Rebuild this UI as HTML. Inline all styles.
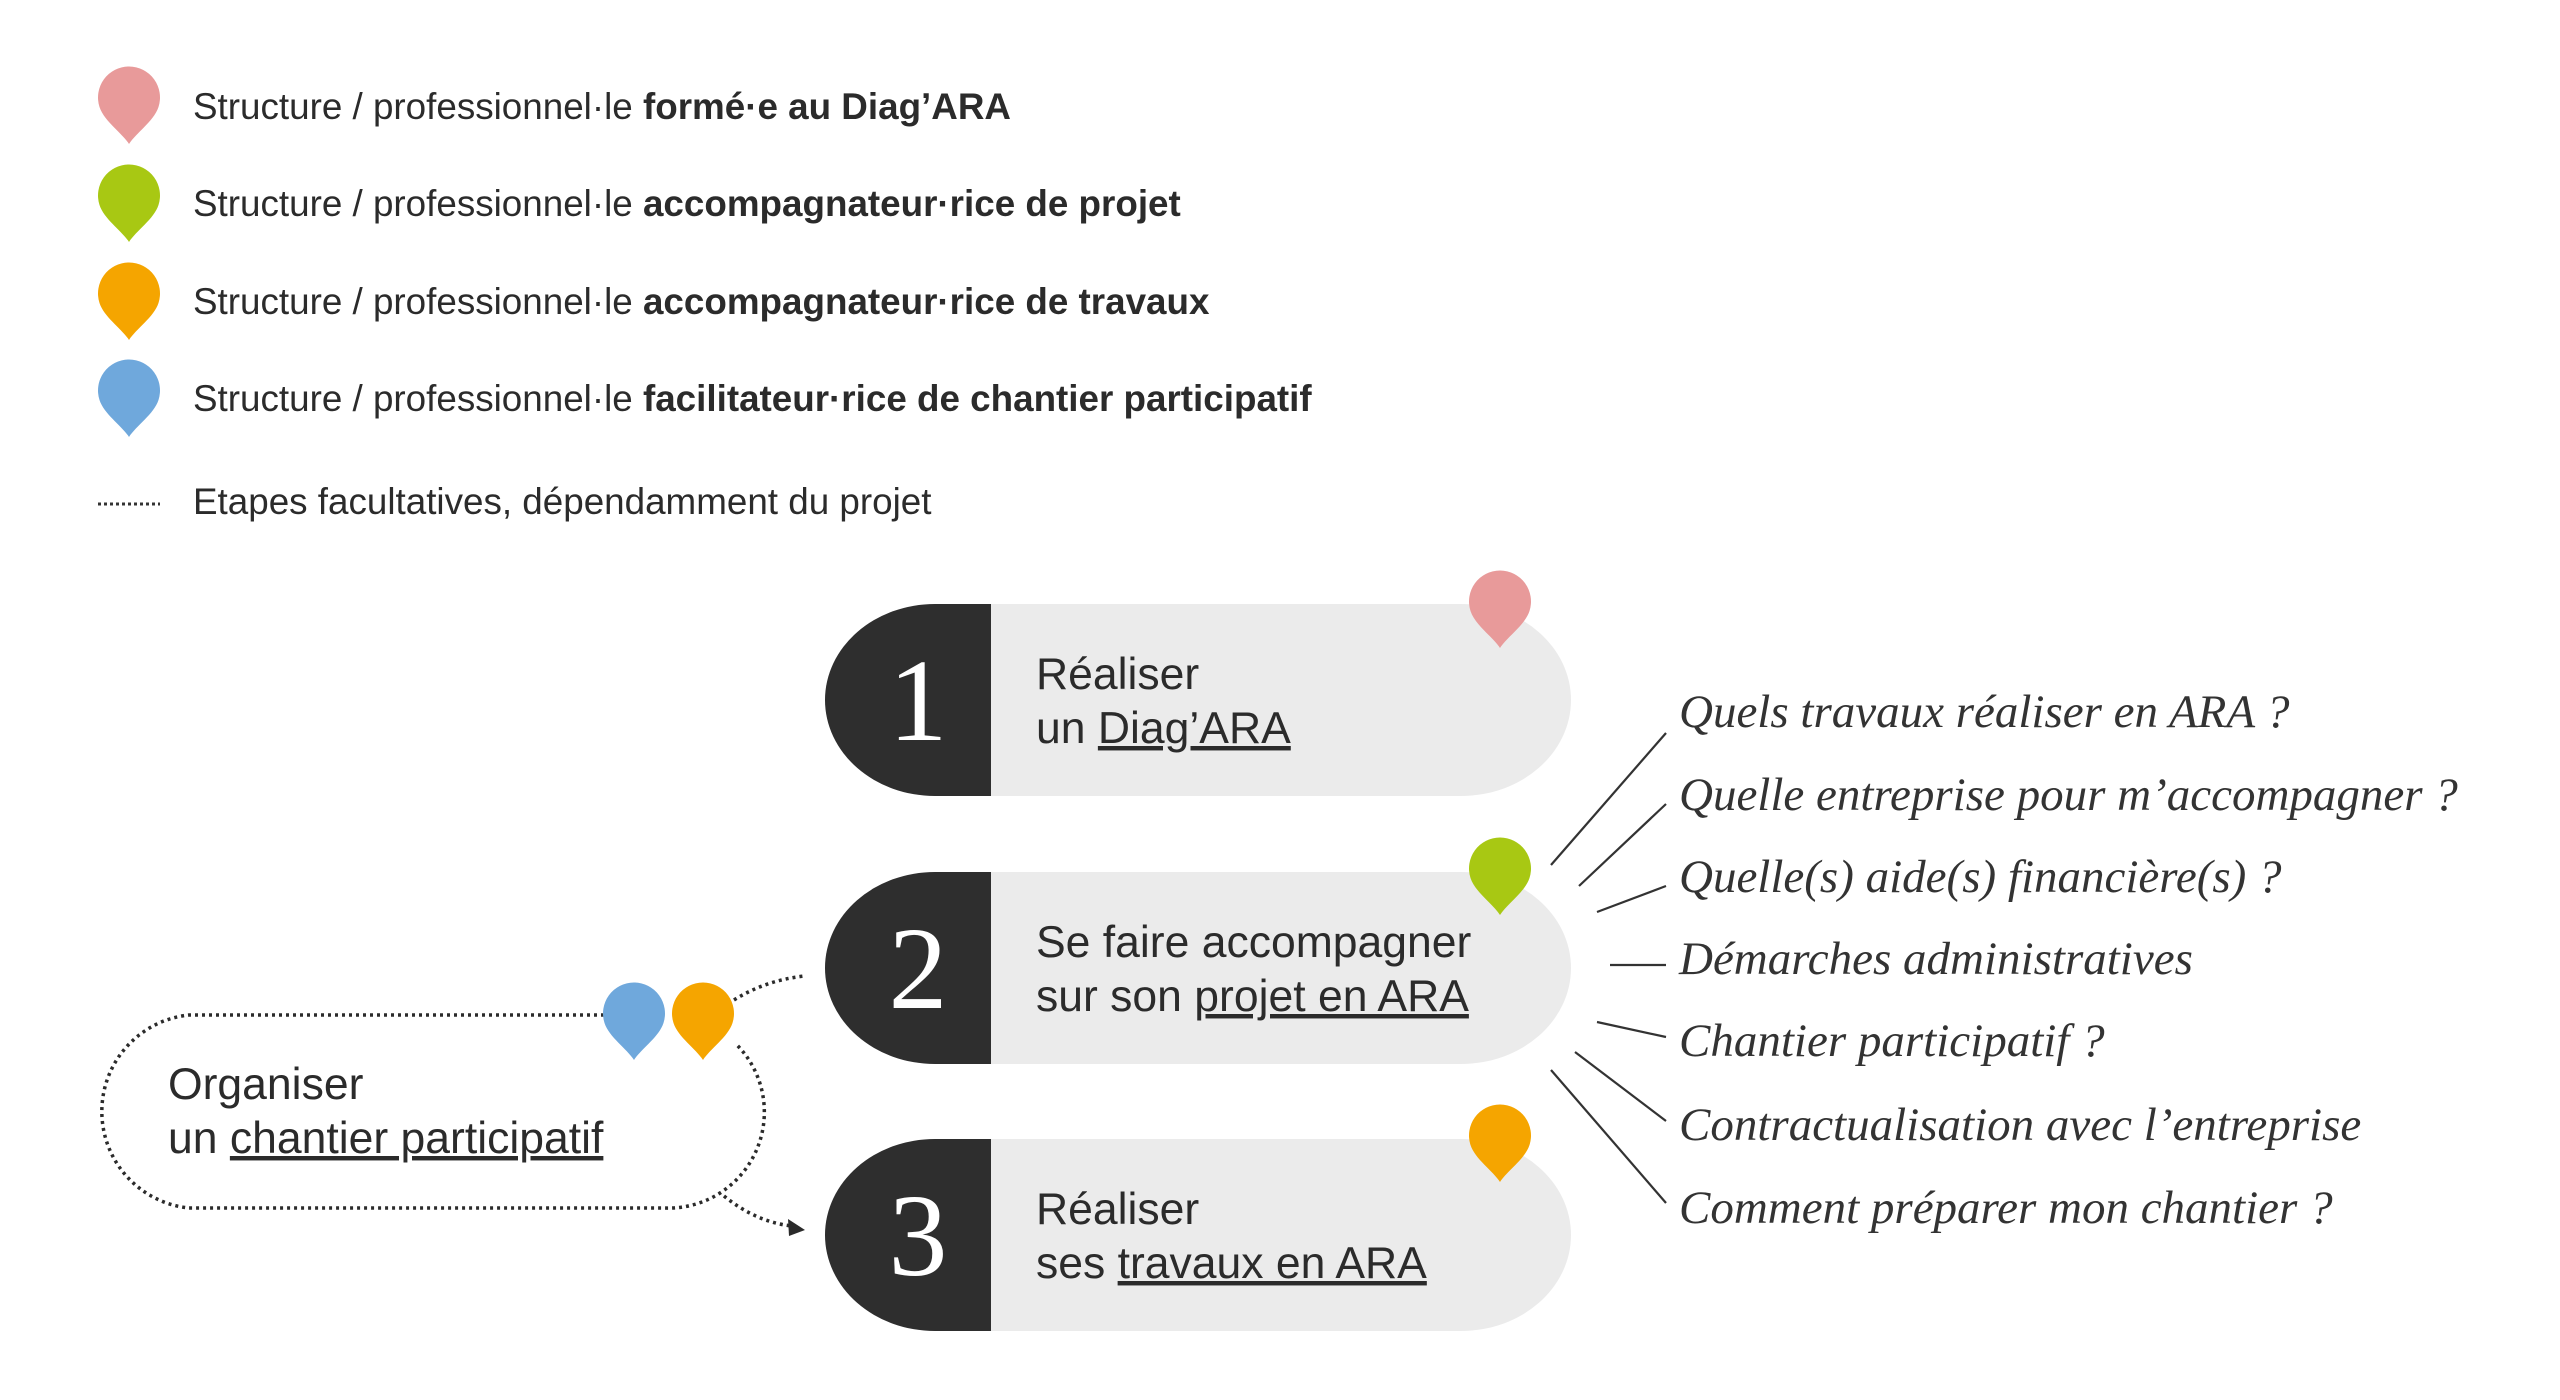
<!DOCTYPE html>
<html><head><meta charset="utf-8"><style>
html,body{margin:0;padding:0;background:#fff;width:2560px;height:1400px;overflow:hidden}
svg{display:block}
.s{font-family:"Liberation Sans",sans-serif;fill:#2b2b2b}
.q{font-family:"Liberation Serif",serif;font-style:italic;fill:#333;font-size:47px}
</style></head><body>
<svg width="2560" height="1400" viewBox="0 0 2560 1400" xmlns="http://www.w3.org/2000/svg">
<defs>
<path id="pin" d="M31 75 C24 64 6 52 1.5 38 A31 31 0 1 1 60.5 38 C56 52 38 64 31 75 Z"/>
</defs>
<!-- legend -->
<use href="#pin" x="98" y="69" fill="#e89a9a"/>
<use href="#pin" x="98" y="167" fill="#a8c813"/>
<use href="#pin" x="98" y="265" fill="#f5a500"/>
<use href="#pin" x="98" y="362" fill="#6fa8dc"/>
<g class="s" font-size="36.8">
<text x="193" y="119">Structure / professionnel·le <tspan font-weight="bold">formé·e au Diag’ARA</tspan></text>
<text x="193" y="216">Structure / professionnel·le <tspan font-weight="bold">accompagnateur·rice de projet</tspan></text>
<text x="193" y="314">Structure / professionnel·le <tspan font-weight="bold">accompagnateur·rice de travaux</tspan></text>
<text x="193" y="411">Structure / professionnel·le <tspan font-weight="bold">facilitateur·rice de chantier participatif</tspan></text>
<text x="193" y="514">Etapes facultatives, dépendamment du projet</text>
</g>
<line x1="98" y1="504" x2="160" y2="504" stroke="#333" stroke-width="3" stroke-dasharray="3 3"/>

<!-- steps -->
<g>
<rect x="825" y="604" width="746" height="192" rx="110" ry="96" fill="#ebebeb"/>
<path d="M991 604 H935 A110 96 0 0 0 935 796 H991 Z" fill="#2e2e2e"/>
<rect x="825" y="872" width="746" height="192" rx="110" ry="96" fill="#ebebeb"/>
<path d="M991 872 H935 A110 96 0 0 0 935 1064 H991 Z" fill="#2e2e2e"/>
<rect x="825" y="1139" width="746" height="192" rx="110" ry="96" fill="#ebebeb"/>
<path d="M991 1139 H935 A110 96 0 0 0 935 1331 H991 Z" fill="#2e2e2e"/>
</g>
<g font-family="Liberation Serif,serif" fill="#fff" font-size="118" text-anchor="middle">
<text x="918" y="740">1</text>
<text x="918" y="1008">2</text>
<text x="918" y="1275">3</text>
</g>
<g class="s" font-size="44.5">
<text x="1036" y="689">Réaliser</text>
<text x="1036" y="743">un <tspan text-decoration="underline">Diag’ARA</tspan></text>
<text x="1036" y="957">Se faire accompagner</text>
<text x="1036" y="1011">sur son <tspan text-decoration="underline">projet en ARA</tspan></text>
<text x="1036" y="1224">Réaliser</text>
<text x="1036" y="1278">ses <tspan text-decoration="underline">travaux en ARA</tspan></text>
</g>
<use href="#pin" x="1469" y="573" fill="#e89a9a"/>
<use href="#pin" x="1469" y="840" fill="#a8c813"/>
<use href="#pin" x="1469" y="1107" fill="#f5a500"/>

<!-- chantier -->
<path d="M604 1015 H189 A97 97 0 0 0 189 1208 H664 A96 96 0 0 0 736 1044" fill="none" stroke="#2b2b2b" stroke-width="3.5" stroke-dasharray="3 4"/>
<path d="M734 1000 Q766 980 805 976" fill="none" stroke="#2b2b2b" stroke-width="3.5" stroke-dasharray="3 4"/>
<path d="M724 1196 Q756 1222 792 1226" fill="none" stroke="#2b2b2b" stroke-width="3.5" stroke-dasharray="3 4"/>
<path d="M805 1230 L788 1219 L789 1236 Z" fill="#2b2b2b"/>
<use href="#pin" x="603" y="985" fill="#6fa8dc"/>
<use href="#pin" x="672" y="985" fill="#f5a500"/>
<g class="s" font-size="44.5">
<text x="168" y="1099">Organiser</text>
<text x="168" y="1153">un <tspan text-decoration="underline">chantier participatif</tspan></text>
</g>

<!-- questions -->
<g stroke="#333" stroke-width="2.2">
<line x1="1551" y1="865" x2="1666" y2="733"/>
<line x1="1579" y1="886" x2="1666" y2="804"/>
<line x1="1597" y1="912" x2="1666" y2="886"/>
<line x1="1610" y1="965" x2="1666" y2="965"/>
<line x1="1597" y1="1022" x2="1666" y2="1037"/>
<line x1="1575" y1="1052" x2="1666" y2="1121"/>
<line x1="1551" y1="1070" x2="1666" y2="1203"/>
</g>
<g class="q">
<text x="1679" y="727">Quels travaux réaliser en ARA ?</text>
<text x="1679" y="810">Quelle entreprise pour m’accompagner ?</text>
<text x="1679" y="892">Quelle(s) aide(s) financière(s) ?</text>
<text x="1679" y="974">Démarches administratives</text>
<text x="1679" y="1056">Chantier participatif ?</text>
<text x="1679" y="1140">Contractualisation avec l’entreprise</text>
<text x="1679" y="1223">Comment préparer mon chantier ?</text>
</g>
</svg>
</body></html>
